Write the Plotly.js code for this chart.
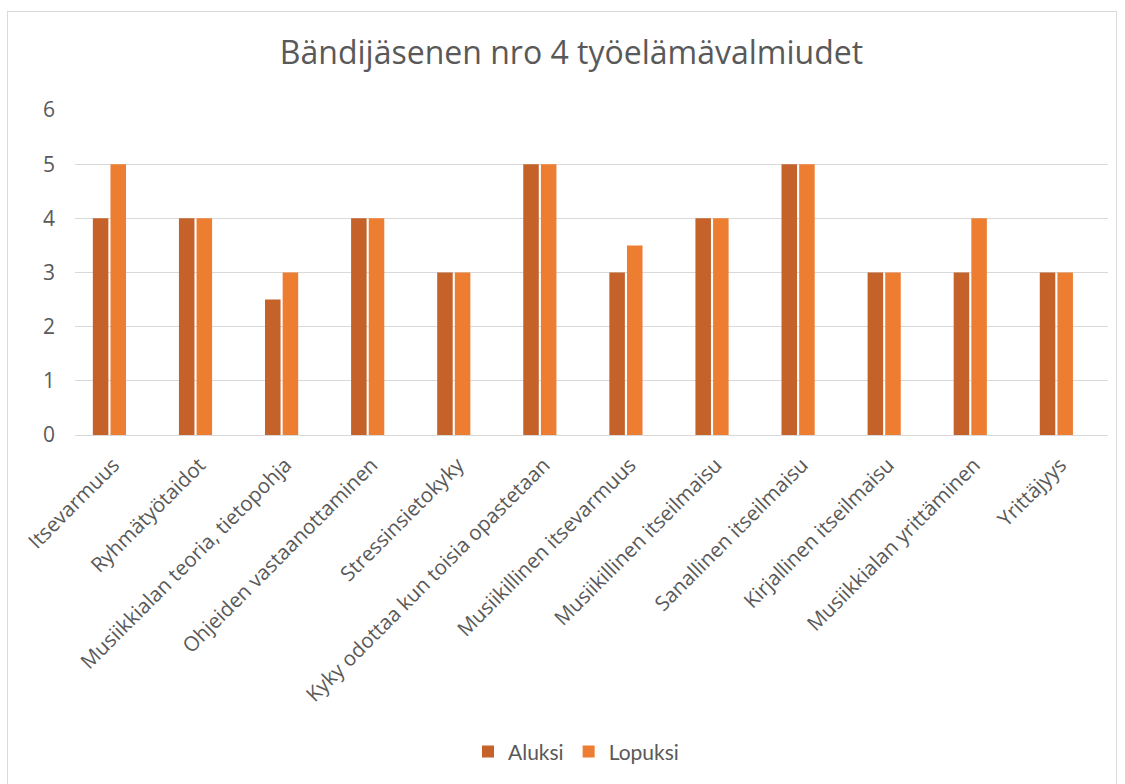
<!DOCTYPE html>
<html>
<head>
<meta charset="utf-8">
<script src="https://cdn.plot.ly/plotly-3.0.1.min.js"></script>
<style>
  html, body { margin: 0; padding: 0; background: #ffffff; }
  #frame { position: absolute; left: 7px; top: 11px; width: 1110px; height: 790px; border: 1px solid #d9d9d9; box-sizing: border-box; }
  #chart { position: absolute; left: 0; top: 0; width: 1125px; height: 784px; }
</style>
</head>
<body>
<div id="frame"></div>
<div id="chart"></div>
<script>
const categories = [
  "Itsevarmuus",
  "Ryhmätyötaidot",
  "Musiikkialan teoria, tietopohja",
  "Ohjeiden vastaanottaminen",
  "Stressinsietokyky",
  "Kyky odottaa kun toisia opastetaan",
  "Musiikillinen itsevarmuus",
  "Musiikillinen itseilmaisu",
  "Sanallinen itseilmaisu",
  "Kirjallinen itseilmaisu",
  "Musiikkialan yrittäminen",
  "Yrittäjyys"
];
const aluksi  = [4, 4, 2.5, 4, 3, 5, 3, 4, 5, 3, 3, 3];
const lopuksi = [5, 4, 3,   4, 3, 5, 3.5, 4, 5, 3, 4, 3];
const yTicks = [0, 1, 2, 3, 4, 5, 6];

const data = [
  { type: "bar", name: "Aluksi", x: categories, y: aluksi, marker: { color: "#C4622A" }, hoverinfo: "y" },
  { type: "bar", name: "Lopuksi", x: categories, y: lopuksi, marker: { color: "#ED7D31" }, hoverinfo: "y" }
];

const layout = {
  width: 1125,
  height: 784,
  paper_bgcolor: "rgba(0,0,0,0)",
  plot_bgcolor: "rgba(0,0,0,0)",
  margin: { l: 75, r: 17, t: 110, b: 349, pad: 0 },
  barmode: "group",
  bargap: 0.59,
  bargroupgap: 0.12,
  font: { family: "Open Sans, sans-serif", color: "#595959" },
  title: {
    text: "Bändijäsenen nro 4 työelämävalmiudet",
    font: { family: "Open Sans, sans-serif", size: 32, color: "#595959" },
    x: 0.508, xanchor: "center",
    y: 0.933, yanchor: "middle"
  },
  xaxis: {
    type: "category",
    range: [-0.4, 11.6],
    tickangle: -45,
    tickfont: { size: 20.5, color: "#595959" },
    showgrid: false,
    showline: false,
    ticks: "",
    ticklen: 0,
    ticklabelstandoff: 13,
    ticklabelshift: 4
  },
  yaxis: {
    range: [0, 6],
    tickvals: yTicks,
    ticktext: yTicks.map(String),
    tickfont: { size: 21, color: "#595959" },
    showgrid: true,
    gridcolor: "#d9d9d9",
    gridwidth: 1,
    zeroline: true,
    zerolinecolor: "#d9d9d9",
    zerolinewidth: 1,
    showline: false,
    ticks: "",
    ticklabelstandoff: 19
  },
  showlegend: true,
  legend: {
    orientation: "h",
    x: 0.485, xanchor: "center",
    y: -0.975, yanchor: "middle",
    font: { family: "Lato, sans-serif", size: 21, color: "#595959" },
    itemwidth: 30,
    tracegroupgap: 0
  }
};

Plotly.newPlot("chart", data, layout, { displayModeBar: false, staticPlot: true });
</script>
</body>
</html>
